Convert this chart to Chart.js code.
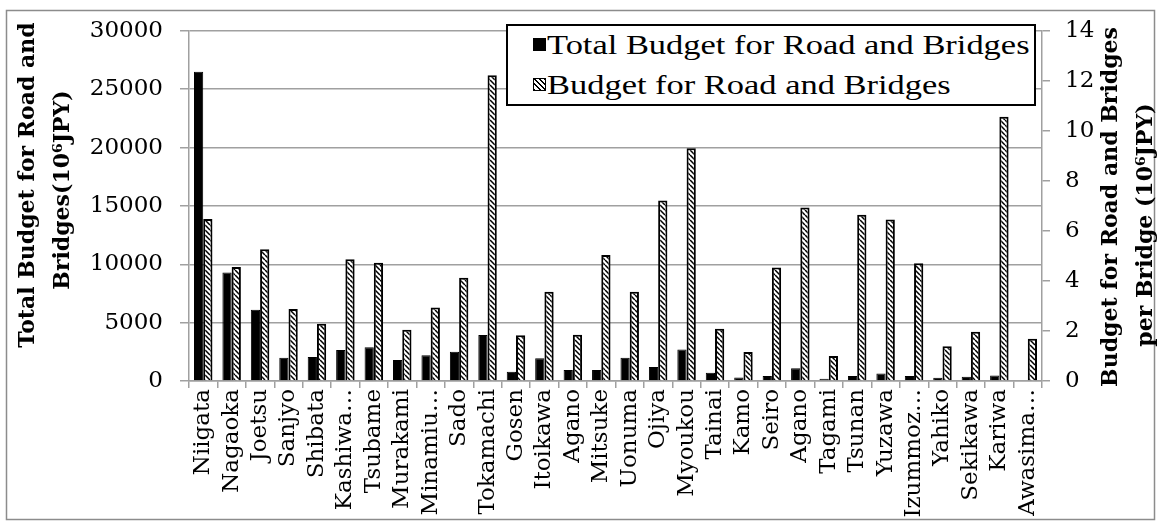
<!DOCTYPE html>
<html>
<head>
<meta charset="utf-8">
<script src="https://cdn.jsdelivr.net/npm/chart.js@4.4.0/dist/chart.umd.min.js"></script>
<style>
    html, body { margin: 0; padding: 0; background: #fff; }
    #wrap { position: relative; width: 1161px; height: 527px; }
    #legend {
        position: absolute; left: 506px; top: 24px; width: 526px; height: 78px;
        border: 2px solid #000; background: #fff;
        font-family: "Liberation Serif"; font-size: 28px; color: #000;
    }
    .row { position: absolute; left: 0; height: 40px; line-height: 40px; white-space: nowrap; }
    .row span.txt { position: absolute; left: 39px; top: 0; transform: scaleX(1.23); transform-origin: 0 50%; }
    .mark { position: absolute; left: 25px; top: 13px; width: 13px; height: 13px; box-sizing: border-box; }
    .mark.solid { background: #000; }
    .mark.hatch { border: 1px solid #000; background: repeating-linear-gradient(45deg, #000 0 1.4px, #fff 1.4px 3.6px); }
</style>
</head>
<body>
<div id="wrap">
    <canvas id="chart" width="1161" height="527"></canvas>
    <div id="legend">
        <div class="row" style="top:-1px"><div class="mark solid"></div><span class="txt">Total Budget for Road and Bridges</span></div>
        <div class="row" style="top:39px"><div class="mark hatch"></div><span class="txt">Budget for Road and Bridges</span></div>
    </div>
</div>
<script>
// municipalities of Niigata prefecture
const cities = ['Niigata', 'Nagaoka', 'Joetsu', 'Sanjyo', 'Shibata', 'Kashiwa…', 'Tsubame', 'Murakami',
    'Minamiu…', 'Sado', 'Tokamachi', 'Gosen', 'Itoikawa', 'Agano', 'Mitsuke', 'Uonuma', 'Ojiya', 'Myoukou',
    'Tainai', 'Kamo', 'Seiro', 'Agano', 'Tagami', 'Tsunan', 'Yuzawa', 'Izummoz…', 'Yahiko', 'Sekikawa',
    'Kariwa', 'Awasima…'];

// total budget (10^6 JPY), left axis
const totalBudget = [26500, 9300, 6100, 2000, 2050, 2650, 2900, 1800, 2200, 2500, 3950, 800, 1950, 950,
    950, 2000, 1200, 2700, 700, 300, 420, 1100, 200, 420, 650, 420, 280, 370, 480, 60];

// budget per bridge (10^6 JPY), right axis
const perBridge = [6.48, 4.56, 5.27, 2.88, 2.29, 4.87, 4.73, 2.05, 2.94, 4.13, 12.22, 1.83, 3.57, 1.85,
    5.04, 3.57, 7.22, 9.30, 2.09, 1.16, 4.54, 6.94, 1.00, 6.65, 6.46, 4.71, 1.39, 1.97, 10.56, 1.69];

const leftTicks = [0, 5000, 10000, 15000, 20000, 25000, 30000];
const rightTicks = [0, 2, 4, 6, 8, 10, 12, 14];

const seriesNames = ['Total Budget for Road and Bridges', 'Budget for Road and Bridges'];
const leftTitle = ['Total Budget for Road and', 'Bridges(10\u2076JPY)'];
const rightTitle = ['Budget for Road and Bridges', 'per Bridge (10\u2076JPY)'];

const GRID = '#a0a0a0';
const SERIF = 'DejaVu Serif';

function hatchPattern() {
    const c = document.createElement('canvas');
    c.width = 5; c.height = 5;
    const g = c.getContext('2d');
    g.fillStyle = '#fff';
    g.fillRect(0, 0, 5, 5);
    g.strokeStyle = '#000';
    g.lineWidth = 1.5;
    g.beginPath();
    [-5, 0, 5].forEach(o => { g.moveTo(o, 0); g.lineTo(o + 5, 5); });
    g.stroke();
    return g.createPattern(c, 'repeat');
}

// frame + rotated axis titles
const decor = {
    id: 'decor',
    afterDraw(chart) {
        const ctx = chart.ctx;
        ctx.save();
        ctx.strokeStyle = '#8c8c8c';
        ctx.lineWidth = 1.5;
        ctx.strokeRect(6.5, 10.5, 1148, 509);

        ctx.fillStyle = '#000';
        ctx.font = 'bold 22px "' + SERIF + '"';
        ctx.textAlign = 'center';
        ctx.textBaseline = 'middle';
        const put = (txt, x, y) => {
            ctx.save();
            ctx.translate(x, y);
            ctx.rotate(-Math.PI / 2);
            ctx.fillText(txt, 0, 0);
            ctx.restore();
        };
        put(leftTitle[0], 28, 185);
        put(leftTitle[1], 63, 190);
        put(rightTitle[0], 1111, 207);
        put(rightTitle[1], 1146, 225);
        ctx.restore();
    }
};

const tickFont = { family: SERIF, size: 23 };

new Chart(document.getElementById('chart'), {
    type: 'bar',
    data: {
        labels: cities,
        datasets: [
            { label: seriesNames[0], data: totalBudget, yAxisID: 'y', backgroundColor: '#000', borderColor: '#000', borderWidth: 1 },
            { label: seriesNames[1], data: perBridge, yAxisID: 'y2', backgroundColor: hatchPattern(), borderColor: '#000', borderWidth: 2 }
        ]
    },
    options: {
        responsive: false, animation: false, devicePixelRatio: 1,
        categoryPercentage: 0.65, barPercentage: 1,
        layout: { padding: { top: 27, left: 0, right: 0, bottom: 0 } },
        plugins: { legend: { display: false }, tooltip: { enabled: false } },
        scales: {
            x: {
                offset: true,
                grid: { offset: true, drawOnChartArea: false, color: GRID, lineWidth: 1.5, tickLength: 7 },
                border: { color: GRID, width: 1.5 },
                ticks: { autoSkip: false, minRotation: 90, maxRotation: 90, padding: 1, color: '#000', font: tickFont },
                afterFit: s => { s.height = 146; }
            },
            y: {
                position: 'left', min: 0, max: 30000,
                afterBuildTicks: s => { s.ticks = leftTicks.map(v => ({ value: v })); },
                grid: { color: GRID, lineWidth: 1.5, tickLength: 9 },
                border: { color: GRID, width: 1.5 },
                ticks: { padding: 17, color: '#000', font: tickFont, callback: v => String(v) },
                afterFit: s => { s.width = 189; }
            },
            y2: {
                position: 'right', min: 0, max: 14,
                afterBuildTicks: s => { s.ticks = rightTicks.map(v => ({ value: v })); },
                grid: { drawOnChartArea: false, color: GRID, lineWidth: 1.5, tickLength: 8 },
                border: { color: GRID, width: 1.5 },
                ticks: { padding: 15, color: '#000', font: tickFont, callback: v => String(v) },
                afterFit: s => { s.width = 119; }
            }
        }
    },
    plugins: [decor]
});
</script>
</body>
</html>
